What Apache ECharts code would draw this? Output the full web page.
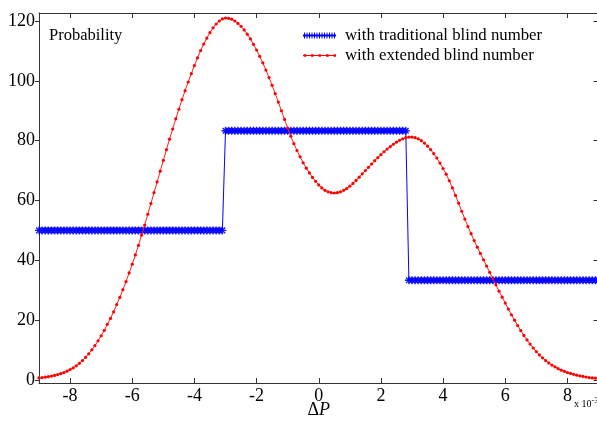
<!DOCTYPE html>
<html>
<head>
<meta charset="utf-8">
<title>Probability vs ΔP</title>
<script src="https://cdn.jsdelivr.net/npm/echarts@6/dist/echarts.min.js"></script>
<style>
  html, body { margin: 0; padding: 0; background: #fff; }
  #chart { width: 597px; height: 421px; }
</style>
</head>
<body>
<div id="chart"></div>
<script>
// Sampling grid of ΔP (units of 10^-3)
const dpStart = -9.0;
const dpStep = 0.1;

// Probability with extended blind number, one value per grid step from -9.0 to 9.0
const extendedProb = [
  0.7, 0.82, 0.95, 1.11, 1.3, 1.53, 1.8, 2.12, 2.5, 2.95,
  3.5, 4.06, 4.75, 5.56, 6.5, 7.57, 8.76, 10.08, 11.52, 13.09,
  14.8, 16.6, 18.6, 20.6, 22.8, 25.2, 27.6, 30.2, 32.9, 35.8,
  38.7, 41.8, 45.0, 48.4, 51.8, 55.4, 59.0, 62.6, 66.2, 69.8,
  73.4, 77.0, 80.5, 83.9, 87.3, 90.5, 93.7, 96.7, 99.6, 102.4,
  105.1, 107.7, 110.1, 112.3, 114.3, 116.1, 117.7, 119.0, 120.0, 120.7,
  121.0,
  120.9, 120.6, 120.0, 119.2, 118.2, 117.0, 115.6, 114.0, 112.2, 110.3,
  108.2, 106.0, 103.6, 101.1, 98.5, 95.7, 92.9, 90.0, 87.1, 84.2,
  81.5, 79.0, 76.7, 74.6, 72.6, 70.8, 69.2, 67.7, 66.4, 65.2,
  64.2, 63.4, 62.9, 62.6, 62.5, 62.6, 62.9, 63.4, 64.0, 64.8,
  65.7, 66.7, 67.8, 68.9, 70.0, 71.1, 72.2, 73.3, 74.3, 75.3,
  76.3, 77.2, 78.0, 78.8, 79.5, 80.1, 80.6, 81.0, 81.2, 81.2,
  81.0, 80.6, 80.0, 79.2, 78.2, 77.0, 75.7, 74.2, 72.5, 70.7,
  68.8, 66.6, 64.2, 61.7, 59.1, 56.4, 53.8, 51.3, 48.9, 46.6,
  44.4, 42.3, 40.2, 38.1, 36.0, 33.9, 31.8, 29.7, 27.7, 25.7,
  23.7, 21.8, 20.0, 18.2, 16.5, 14.9, 13.4, 12.0, 10.7, 9.5,
  8.4, 7.4, 6.5, 5.7, 5.0, 4.4, 3.8, 3.3, 2.9, 2.5,
  2.2, 1.9, 1.6, 1.4, 1.2, 1.0, 0.8, 0.7, 0.6, 0.5
];

// Probability with traditional blind number: constant levels over ΔP spans
const traditionalLevels = [50, 83.33, 33.33];
const traditionalSpans = [[-9.0, -3.1], [-3.0, 2.8], [2.9, 9.0]];

const xTicks = [-8, -6, -4, -2, 0, 2, 4, 6, 8];
const yTicks = [0, 20, 40, 60, 80, 100, 120];

const nameTraditional = 'with traditional blind number';
const nameExtended = 'with extended blind number';

const round1 = v => Math.round(v * 10) / 10;

const extendedData = extendedProb.map((p, i) => [round1(dpStart + i * dpStep), p]);

const traditionalData = [];
traditionalSpans.forEach((span, k) => {
  const n = Math.round((span[1] - span[0]) / dpStep);
  for (let i = 0; i <= n; i++) {
    traditionalData.push([round1(span[0] + i * dpStep), traditionalLevels[k]]);
  }
});

// Legend samples: a short line carrying several markers
function starLegendPath() {
  let d = 'M0,3h33v2h-33z';
  for (let x = 1.5; x < 33; x += 2.5) {
    d += 'M' + (x - 0.5) + ',1h1v6h-1z';
  }
  return 'path://' + d;
}
function dotLegendPath() {
  let d = 'M0,3.5h33v1h-33z';
  [2, 9.5, 17, 24.5, 32].forEach(x => {
    d += 'M' + (x - 1.3) + ',2.7h2.6v2.6h-2.6z';
  });
  return 'path://' + d;
}

const serif = "'Liberation Serif', 'Times New Roman', serif";
const axisColor = '#333';

const chart = echarts.init(document.getElementById('chart'), null, { renderer: 'canvas' });

chart.setOption({
  animation: false,
  backgroundColor: '#fff',
  textStyle: { fontFamily: serif },
  title: {
    text: 'Probability',
    left: 49,
    top: 27,
    padding: 0,
    textStyle: { fontFamily: serif, fontSize: 16.5, fontWeight: 'normal', color: '#000' }
  },
  legend: {
    left: 303,
    top: 27,
    padding: 0,
    orient: 'vertical',
    itemWidth: 33,
    itemHeight: 8,
    itemGap: 3,
    selectedMode: false,
    itemStyle: { borderWidth: 0 },
    textStyle: { fontFamily: serif, fontSize: 16.8, color: '#000', padding: [0, 0, 0, 4] },
    data: [
      { name: nameTraditional, icon: starLegendPath() },
      { name: nameExtended, icon: dotLegendPath() }
    ]
  },
  grid: { left: 39, right: -1.5, top: 13, bottom: 38, containLabel: false, outerBoundsMode: 'none' },
  xAxis: [
    {
      type: 'value',
      position: 'bottom',
      min: -9,
      max: 9,
      splitLine: { show: false },
      axisLine: { onZero: false, lineStyle: { color: axisColor, width: 1 } },
      axisTick: { inside: true, length: 5, customValues: xTicks, lineStyle: { color: axisColor } },
      axisLabel: { customValues: xTicks, fontFamily: serif, fontSize: 18, color: '#000', margin: 4 },
      name: '{d|Δ}{p|P}',
      nameLocation: 'middle',
      nameGap: 18,
      nameMoveOverlap: false,
      nameTextStyle: {
        rich: {
          d: { fontFamily: serif, fontSize: 18, color: '#000' },
          p: { fontFamily: serif, fontSize: 18, fontStyle: 'italic', color: '#000' }
        }
      }
    },
    {
      type: 'value',
      position: 'top',
      min: -9,
      max: 9,
      splitLine: { show: false },
      axisLine: { onZero: false, lineStyle: { color: axisColor, width: 1 } },
      axisTick: { inside: true, length: 5, customValues: xTicks, lineStyle: { color: axisColor } },
      axisLabel: { show: false }
    }
  ],
  yAxis: [
    {
      type: 'value',
      position: 'left',
      min: -1,
      max: 122.67,
      splitLine: { show: false },
      axisLine: { show: true, onZero: false, lineStyle: { color: axisColor, width: 1 } },
      axisTick: { show: true, inside: false, length: 4, customValues: yTicks, lineStyle: { color: axisColor } },
      axisLabel: { customValues: yTicks, fontFamily: serif, fontSize: 18, color: '#000', margin: 4 }
    },
    {
      type: 'value',
      position: 'right',
      min: -1,
      max: 122.67,
      splitLine: { show: false },
      axisLine: { show: true, onZero: false, lineStyle: { color: axisColor, width: 1 } },
      axisTick: { show: true, inside: true, length: 5, customValues: yTicks, lineStyle: { color: axisColor } },
      axisLabel: { show: false }
    }
  ],
  graphic: [
    {
      type: 'text',
      left: 574,
      top: 397,
      style: {
        text: '{a|x 10}{b|-3}',
        rich: {
          a: { fontFamily: serif, fontSize: 10, fill: '#000' },
          b: { fontFamily: serif, fontSize: 8, fill: '#000', verticalAlign: 'top', padding: [0, 0, 6, 0] }
        }
      }
    }
  ],
  series: [
    {
      name: nameTraditional,
      type: 'line',
      xAxisIndex: 0,
      yAxisIndex: 0,
      data: traditionalData,
      symbol: 'path://M0,5L10,5M5,0L5,10M1.5,1.5L8.5,8.5M8.5,1.5L1.5,8.5',
      symbolSize: 8,
      showAllSymbol: true,
      itemStyle: { color: '#0000ff', borderColor: 'rgba(0,0,255,0.9)', borderWidth: 1.4 },
      lineStyle: { color: '#0000ff', width: 1 },
      emphasis: { disabled: true },
      silent: true,
      z: 2
    },
    {
      name: nameExtended,
      type: 'line',
      xAxisIndex: 0,
      yAxisIndex: 0,
      data: extendedData,
      symbol: 'circle',
      symbolSize: 3.2,
      showAllSymbol: true,
      itemStyle: { color: '#ff0000' },
      lineStyle: { color: '#ff2020', width: 1 },
      emphasis: { disabled: true },
      silent: true,
      z: 3
    }
  ]
});
</script>
</body>
</html>
